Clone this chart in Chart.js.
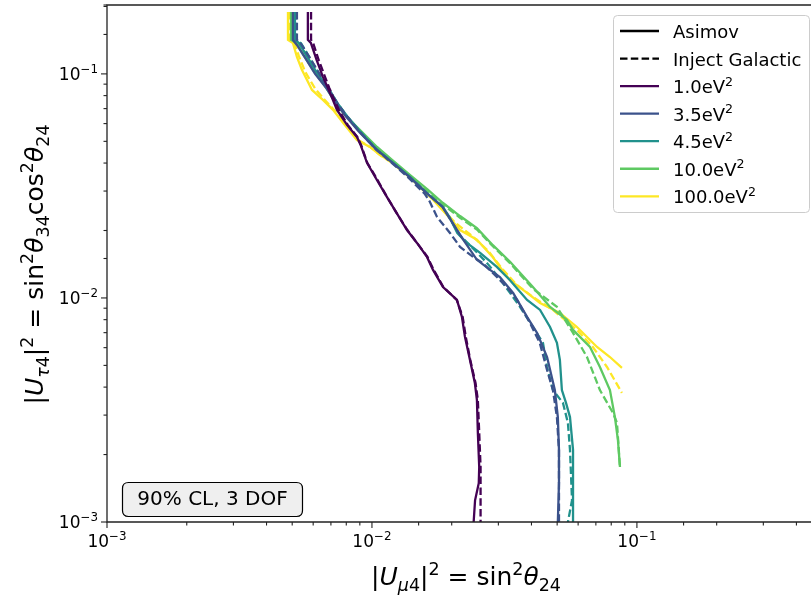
<!DOCTYPE html>
<html>
<head>
<meta charset="utf-8">
<script src="https://cdn.jsdelivr.net/npm/chart.js@4"></script>
<style>
  html, body { margin: 0; padding: 0; background: #fff; overflow: hidden; }
  #wrap { width: 811px; height: 596px; position: relative; }
</style>
</head>
<body>
<div id="wrap"><canvas id="limits"></canvas></div>
<script>
// mass splittings, legend labels and colours (viridis)
var massLabels = ["1.0eV", "3.5eV", "4.5eV", "10.0eV", "100.0eV"];
var massColors = ["#440154", "#3b528b", "#21918c", "#5ec962", "#fde725"];

// contours as [|U_mu4|^2, |U_tau4|^2]
var asimov1 = [[0.00573,0.189],[0.00573,0.142],[0.00588,0.1375],[0.00618,0.1155],[0.00653,0.097],[0.00682,0.0866],[0.00738,0.069],[0.00805,0.0592],[0.00878,0.0523],[0.00906,0.0482],[0.00958,0.0401],[0.01044,0.0336],[0.0114,0.0282],[0.0124,0.0239],[0.01356,0.0201],[0.01479,0.0176],[0.01613,0.01524],[0.0170,0.01334],[0.01854,0.01119],[0.02093,0.0098],[0.02186,0.00822],[0.02244,0.0067],[0.02344,0.00529],[0.02446,0.00417],[0.0249,0.0035],[0.0251,0.0025],[0.0254,0.00176],[0.0253,0.00149],[0.0245,0.00125],[0.0242,0.001]];
var galactic1 = [[0.00589,0.189],[0.00589,0.142],[0.0060,0.137],[0.0063,0.115],[0.00665,0.097],[0.0069,0.0866],[0.0075,0.069],[0.0081,0.0592],[0.0088,0.0523],[0.0091,0.0482],[0.0096,0.0401],[0.0105,0.0336],[0.0114,0.0282],[0.0124,0.0239],[0.0136,0.0201],[0.0148,0.0176],[0.0162,0.01524],[0.0171,0.01334],[0.0186,0.01119],[0.0209,0.0098],[0.0220,0.00822],[0.0226,0.0067],[0.0235,0.00529],[0.0246,0.00417],[0.0251,0.0035],[0.0254,0.0025],[0.0257,0.00176],[0.0257,0.00125],[0.0257,0.001]];

var asimov35 = [[0.00503,0.189],[0.00503,0.142],[0.0052,0.135],[0.0056,0.118],[0.0061,0.100],[0.0067,0.087],[0.0073,0.0742],[0.0080,0.0643],[0.0089,0.0555],[0.01035,0.0462],[0.0119,0.0403],[0.0138,0.0348],[0.0160,0.0295],[0.0184,0.0256],[0.0202,0.0215],[0.0221,0.0182],[0.0249,0.0148],[0.0280,0.0133],[0.0304,0.0124],[0.0341,0.01053],[0.0385,0.00823],[0.0420,0.00698],[0.0458,0.00545],[0.0490,0.00388],[0.0503,0.00294],[0.0508,0.0021],[0.0508,0.00149],[0.0503,0.001]];
var galactic35 = [[0.00521,0.189],[0.00521,0.142],[0.0054,0.136],[0.0058,0.119],[0.0063,0.101],[0.0068,0.087],[0.0074,0.074],[0.0081,0.064],[0.0090,0.055],[0.0104,0.0458],[0.0119,0.040],[0.0137,0.0345],[0.0158,0.0292],[0.0165,0.027],[0.0176,0.023],[0.0197,0.0195],[0.0215,0.0169],[0.0241,0.01524],[0.0262,0.0143],[0.0323,0.0112],[0.0353,0.0098],[0.0395,0.00773],[0.0430,0.0063],[0.0458,0.00477],[0.0482,0.00388],[0.0499,0.00294],[0.0508,0.0021],[0.0508,0.001]];

var asimov45 = [[0.00512,0.189],[0.00512,0.142],[0.0053,0.1375],[0.0057,0.119],[0.0062,0.101],[0.0068,0.0875],[0.0074,0.0742],[0.0081,0.0643],[0.0090,0.0555],[0.01045,0.0458],[0.0120,0.0401],[0.0139,0.0347],[0.0161,0.0294],[0.0185,0.0255],[0.0196,0.023],[0.0210,0.0195],[0.0228,0.0176],[0.0256,0.0159],[0.0296,0.01375],[0.0332,0.012],[0.0385,0.0098],[0.0431,0.00884],[0.0470,0.00742],[0.0499,0.0063],[0.0512,0.00529],[0.0521,0.00388],[0.0540,0.0034],[0.0559,0.00294],[0.0574,0.0021],[0.0574,0.001]];
var galactic45 = [[0.00517,0.189],[0.00517,0.142],[0.0054,0.137],[0.0058,0.119],[0.0063,0.101],[0.0068,0.087],[0.0074,0.074],[0.0081,0.064],[0.0090,0.0555],[0.0104,0.046],[0.0120,0.0401],[0.0139,0.0347],[0.0161,0.0294],[0.0185,0.0255],[0.0215,0.019],[0.0245,0.0163],[0.0272,0.0143],[0.0300,0.0124],[0.0332,0.01053],[0.0362,0.00912],[0.0405,0.00742],[0.0442,0.0063],[0.0458,0.00492],[0.0482,0.00388],[0.0526,0.0034],[0.0549,0.00277],[0.0559,0.0021],[0.0569,0.00125],[0.0549,0.001]];

var asimov10 = [[0.00495,0.189],[0.00495,0.142],[0.0052,0.1375],[0.0055,0.122],[0.0060,0.104],[0.0066,0.0895],[0.0072,0.076],[0.0079,0.0655],[0.0089,0.057],[0.01045,0.0472],[0.0120,0.0410],[0.0139,0.0354],[0.0162,0.0305],[0.0185,0.0266],[0.0215,0.0232],[0.0249,0.0205],[0.0286,0.0172],[0.0332,0.0145],[0.0405,0.0112],[0.0470,0.00912],[0.0544,0.00798],[0.0574,0.0072],[0.0665,0.00604],[0.0725,0.00492],[0.0791,0.00388],[0.0826,0.00294],[0.0848,0.00232],[0.0863,0.00176]];
var galactic10 = [[0.00505,0.189],[0.00505,0.142],[0.0053,0.137],[0.0057,0.12],[0.0061,0.102],[0.0067,0.088],[0.0073,0.075],[0.0080,0.065],[0.0089,0.0565],[0.0104,0.047],[0.0120,0.0405],[0.0139,0.035],[0.0161,0.030],[0.0185,0.0262],[0.0215,0.0228],[0.0249,0.0202],[0.0286,0.0170],[0.0332,0.0143],[0.0405,0.0110],[0.0499,0.00912],[0.0574,0.00698],[0.0648,0.00545],[0.0725,0.00388],[0.0812,0.00307],[0.0841,0.00277],[0.0863,0.00176]];

var asimov100 = [[0.00482,0.189],[0.00482,0.142],[0.00503,0.1375],[0.00521,0.1191],[0.00544,0.1042],[0.00594,0.0848],[0.00653,0.0766],[0.00713,0.0691],[0.00778,0.0605],[0.00878,0.0507],[0.00983,0.0472],[0.0107,0.0435],[0.0120,0.0401],[0.0139,0.0347],[0.0161,0.0294],[0.0180,0.0255],[0.0200,0.0222],[0.0215,0.0201],[0.0249,0.0182],[0.0286,0.0152],[0.0304,0.01375],[0.0332,0.0120],[0.0385,0.01053],[0.0431,0.0095],[0.0512,0.00857],[0.0594,0.00742],[0.0707,0.00604],[0.0791,0.00545],[0.0878,0.00487]];
var galactic100 = [[0.0049,0.189],[0.0049,0.142],[0.0051,0.137],[0.0053,0.12],[0.0056,0.102],[0.0061,0.086],[0.0066,0.077],[0.0072,0.069],[0.0079,0.060],[0.0088,0.051],[0.0099,0.047],[0.0108,0.0432],[0.0120,0.0398],[0.0139,0.0345],[0.0161,0.0292],[0.0183,0.0253],[0.0205,0.0218],[0.0240,0.0188],[0.0275,0.0162],[0.0310,0.0135],[0.0350,0.0115],[0.0405,0.0101],[0.0482,0.00884],[0.0594,0.0072],[0.0682,0.00604],[0.0771,0.00492],[0.0878,0.00377]];

var asimovCurves = [asimov1, asimov35, asimov45, asimov10, asimov100];
var galacticCurves = [galactic1, galactic35, galactic45, galactic10, galactic100];

var xRange = [0.001, 0.454];
var yRange = [0.001, 0.203];
var clText = "90% CL, 3 DOF";

var DASH = [7.5, 3.3];
var FONT = "'DejaVu Sans'";

window.addEventListener("load", init);

function toPoints(arr) {
    return arr.map(function (p) { return { x: p[0], y: p[1] }; });
}

function isPow10(v) {
    var e = Math.round(Math.log10(v));
    return Math.abs(v / Math.pow(10, e) - 1) < 1e-6;
}

// [text, italic, shift] shift: 1 = superscript, -1 = subscript
var xTitle = [["|", 0, 0], ["U", 1, 0], ["μ", 1, -1], ["4", 0, -1], ["|", 0, 0], ["2", 0, 1], [" = sin", 0, 0], ["2", 0, 1], ["θ", 1, 0], ["24", 0, -1]];
var yTitle = [["|", 0, 0], ["U", 1, 0], ["τ", 1, -1], ["4", 0, -1], ["|", 0, 0], ["2", 0, 1], [" = sin", 0, 0], ["2", 0, 1], ["θ", 1, 0], ["34", 0, -1], ["cos", 0, 0], ["2", 0, 1], ["θ", 1, 0], ["24", 0, -1]];

function powParts(v) {
    var e = Math.round(Math.log10(v));
    return [["10", 0, 0], [(e < 0 ? "−" : "") + Math.abs(e), 0, 1]];
}

function partFont(p, size) {
    var s = p[2] ? size * 0.7 : size;
    return (p[1] ? "italic " : "") + s + "px " + FONT;
}

// draws mixed text with baseline at (0,0); align: 'left' | 'center' | 'right'
function drawRich(ctx, parts, size, align) {
    var w = 0;
    parts.forEach(function (p) { ctx.font = partFont(p, size); w += ctx.measureText(p[0]).width; });
    var x = align === "left" ? 0 : (align === "right" ? -w : -w / 2);
    ctx.textBaseline = "alphabetic";
    ctx.textAlign = "left";
    parts.forEach(function (p) {
        ctx.font = partFont(p, size);
        var dy = p[2] === 1 ? -0.42 * size : (p[2] === -1 ? 0.22 * size : 0);
        ctx.fillText(p[0], x, dy);
        x += ctx.measureText(p[0]).width;
    });
}

function drawRichAt(ctx, parts, size, align, x, y, rot) {
    ctx.save();
    ctx.translate(x, y);
    if (rot) ctx.rotate(rot);
    drawRich(ctx, parts, size, align);
    ctx.restore();
}

function roundRect(ctx, x, y, w, h, r) {
    ctx.beginPath();
    ctx.moveTo(x + r, y);
    ctx.lineTo(x + w - r, y);
    ctx.quadraticCurveTo(x + w, y, x + w, y + r);
    ctx.lineTo(x + w, y + h - r);
    ctx.quadraticCurveTo(x + w, y + h, x + w - r, y + h);
    ctx.lineTo(x + r, y + h);
    ctx.quadraticCurveTo(x, y + h, x, y + h - r);
    ctx.lineTo(x, y + r);
    ctx.quadraticCurveTo(x, y, x + r, y);
    ctx.closePath();
}

var axesDecor = {
    id: "axesDecor",
    afterDraw: function (chart) {
        var ctx = chart.ctx, a = chart.chartArea;
        var xs = chart.scales.x, ys = chart.scales.y;
        ctx.save();

        // spines (right one is outside the crop)
        ctx.strokeStyle = "#222";
        ctx.lineWidth = 1.3;
        ctx.beginPath();
        ctx.moveTo(a.right + 2, a.top); ctx.lineTo(a.left, a.top);
        ctx.lineTo(a.left, a.bottom); ctx.lineTo(a.right + 2, a.bottom);
        ctx.stroke();

        // ticks and tick labels
        ctx.lineWidth = 1.1;
        ctx.fillStyle = "#000";
        xs.ticks.forEach(function (t) {
            var px = xs.getPixelForValue(t.value);
            if (px < a.left - 1 || px > a.right - 1) return;
            var major = isPow10(t.value);
            ctx.beginPath(); ctx.moveTo(px, a.bottom); ctx.lineTo(px, a.bottom + (major ? 6 : 3.5)); ctx.stroke();
            if (major) drawRichAt(ctx, powParts(t.value), 17, "center", px, a.bottom + 25);
        });
        ys.ticks.forEach(function (t) {
            var py = ys.getPixelForValue(t.value);
            if (py < a.top - 1 || py > a.bottom + 1) return;
            var major = isPow10(t.value);
            ctx.beginPath(); ctx.moveTo(a.left, py); ctx.lineTo(a.left - (major ? 6 : 3.5), py); ctx.stroke();
            if (major) drawRichAt(ctx, powParts(t.value), 17, "right", a.left - 9, py + 6);
        });

        // axis titles
        drawRichAt(ctx, xTitle, 25, "center", 466, 585);
        drawRichAt(ctx, yTitle, 25, "center", 43, (a.top + a.bottom) / 2 + 1, -Math.PI / 2);

        // CL text box
        roundRect(ctx, 122.5, 482.5, 180, 34, 6);
        ctx.fillStyle = "#efefef";
        ctx.fill();
        ctx.strokeStyle = "#000";
        ctx.lineWidth = 1.2;
        ctx.stroke();
        ctx.fillStyle = "#000";
        ctx.font = "20px " + FONT;
        ctx.textAlign = "center";
        ctx.textBaseline = "middle";
        ctx.fillText(clText, 212.5, 500);

        // legend
        var entries = [
            { parts: [["Asimov", 0, 0]], color: "#000", dash: [] },
            { parts: [["Inject Galactic", 0, 0]], color: "#000", dash: DASH }
        ];
        massLabels.forEach(function (l, i) {
            entries.push({ parts: [[l, 0, 0], ["2", 0, 1]], color: massColors[i], dash: [] });
        });
        roundRect(ctx, 613.5, 15.5, 196, 197, 4);
        ctx.fillStyle = "rgba(255,255,255,0.8)";
        ctx.fill();
        ctx.strokeStyle = "#cccccc";
        ctx.lineWidth = 1;
        ctx.stroke();
        entries.forEach(function (e, i) {
            var y = 31 + i * 27.55;
            ctx.strokeStyle = e.color;
            ctx.lineWidth = 2.3;
            ctx.setLineDash(e.dash);
            ctx.beginPath(); ctx.moveTo(620, y); ctx.lineTo(659, y); ctx.stroke();
            ctx.setLineDash([]);
            ctx.fillStyle = "#000";
            drawRichAt(ctx, e.parts, 18, "left", 673, y + 7);
        });

        ctx.restore();
    }
};

function init() {
    Chart.defaults.font.family = FONT;
    Chart.defaults.color = "#000";

    var datasets = [];
    massLabels.forEach(function (l, i) {
        datasets.push({
            label: l + "² Asimov",
            data: toPoints(asimovCurves[i]),
            borderColor: massColors[i],
            borderWidth: 2.3,
            showLine: true,
            pointRadius: 0,
            tension: 0
        });
        datasets.push({
            label: l + "² Inject Galactic",
            data: toPoints(galacticCurves[i]),
            borderColor: massColors[i],
            borderWidth: 2.3,
            borderDash: DASH,
            showLine: true,
            pointRadius: 0,
            tension: 0
        });
    });

    var config = {
        type: "scatter",
        data: { datasets: datasets },
        options: {
            responsive: true,
            maintainAspectRatio: false,
            animation: false,
            layout: { padding: { left: 0, right: 0, top: 5, bottom: 0 } },
            plugins: {
                legend: { display: false },
                tooltip: { enabled: false }
            },
            scales: {
                x: {
                    type: "logarithmic",
                    min: xRange[0],
                    max: xRange[1],
                    border: { display: false },
                    grid: { display: false },
                    ticks: { display: false, autoSkip: false },
                    afterFit: function (s) { s.height = 74; }
                },
                y: {
                    type: "logarithmic",
                    min: yRange[0],
                    max: yRange[1],
                    border: { display: false },
                    grid: { display: false },
                    ticks: { display: false, autoSkip: false },
                    afterFit: function (s) { s.width = 107; }
                }
            }
        },
        plugins: [axesDecor]
    };
    var limitsChart = new Chart(document.getElementById("limits"), config);
}
</script>
</body>
</html>
